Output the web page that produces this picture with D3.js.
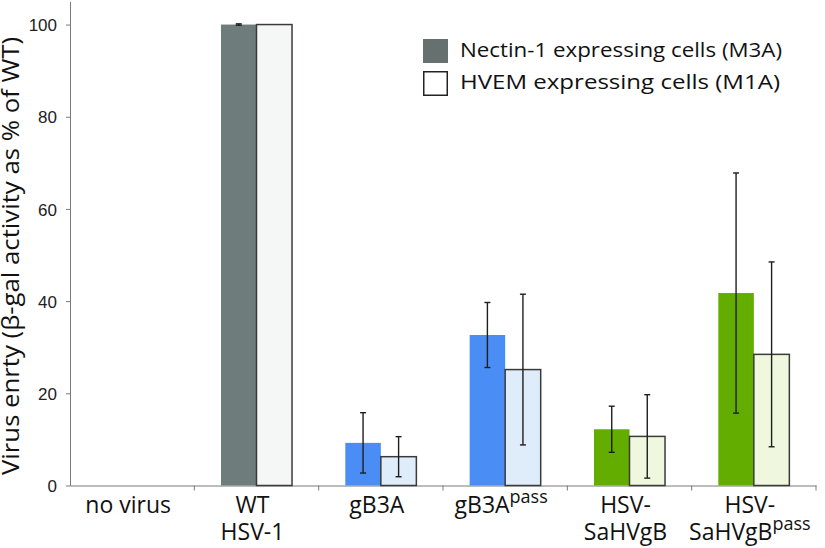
<!DOCTYPE html>
<html><head><meta charset="utf-8">
<script src="https://d3js.org/d3.v7.min.js"></script>
<style>
body{margin:0;background:#fff;}
svg{display:block;}
</style></head>
<body>
<svg id="chart" width="825" height="548"></svg>
<script>
// ---- data ----
const categories = ["no virus", "WT HSV-1", "gB3A", "gB3Apass", "HSV-SaHVgB", "HSV-SaHVgBpass"];
// label lines: [base text, superscript]
const labelLines = [
  [["no virus", ""]],
  [["WT", ""], ["HSV-1", ""]],
  [["gB3A", ""]],
  [["gB3A", "pass"]],
  [["HSV-", ""], ["SaHVgB", ""]],
  [["HSV-", ""], ["SaHVgB", "pass"]]
];
const families = ["none", "wt", "gb3a", "gb3a", "sahv", "sahv"];
const seriesNames = ["Nectin-1 expressing cells (M3A)", "HVEM expressing cells (M1A)"];
const nectinValues = [0, 100, 9.25, 32.65, 12.2, 41.75];
const nectinErrors = [0, 0.15, 6.55, 7.05, 5.0, 26.05];
const hvemValues   = [0, 100, 6.25, 25.15, 10.65, 28.45];
const hvemErrors   = [0, 0, 4.35, 16.35, 9.05, 20.05];
const yTicks = [0, 20, 40, 60, 80, 100];
const yTitle = "Virus enrty (\u03b2-gal activity as % of WT)";

// ---- styles ----
const fillDark  = {none: "#6e7d7c", wt: "#6e7d7c", gb3a: "#4a8df5", sahv: "#63ad00"};
const fillLight = {none: "#f5f6f6", wt: "#f5f6f6", gb3a: "#dfedfb", sahv: "#eff8de"};
const labelFont = "'Open Sans', 'Noto Sans', sans-serif";

const svg = d3.select("#chart");
const mLeft = 70, mRight = 816, mTop = 1.5, mBottom = 485.5;

const x = d3.scaleBand().domain(categories).range([mLeft, mRight]).padding(0);
const xInner = d3.scaleBand().domain([0, 1]).range([0, x.bandwidth()]).paddingInner(0).paddingOuter(0.75);
const y = d3.scaleLinear().domain([0, 105]).range([mBottom, mTop]);

// y axis
const yAxis = d3.axisLeft(y).tickValues(yTicks).tickSize(4).tickPadding(9).tickSizeOuter(0);
const gy = svg.append("g").attr("transform", `translate(${mLeft},0)`).call(yAxis);
gy.select(".domain").attr("stroke", "#7a7a7a");
gy.selectAll(".tick line").attr("stroke", "#7a7a7a");
gy.selectAll(".tick text").attr("font-family", "'Liberation Sans', Arial, sans-serif")
  .attr("font-size", 17).attr("fill", "#222").attr("dy", "0.36em");

// x axis
const xAxis = d3.axisBottom(x).tickValues([]).tickSizeOuter(0);
const gx = svg.append("g").attr("transform", `translate(0,${mBottom})`).call(xAxis);
gx.select(".domain").attr("stroke", "#7a7a7a");
const boundaries = categories.slice(1).map(c => x(c)).concat([x(categories[categories.length - 1]) + x.bandwidth()]);
gx.selectAll("line.bt").data(boundaries).enter().append("line")
  .attr("x1", d => d).attr("x2", d => d).attr("y1", 0).attr("y2", 5)
  .attr("stroke", "#7a7a7a");

// bars
const rows = [];
categories.forEach((c, i) => {
  rows.push({cat: c, s: 0, v: nectinValues[i], e: nectinErrors[i], fam: families[i]});
  rows.push({cat: c, s: 1, v: hvemValues[i], e: hvemErrors[i], fam: families[i]});
});
const barRows = rows.filter(d => d.v > 0);
svg.append("g").selectAll("rect").data(barRows).enter().append("rect")
  .attr("x", d => x(d.cat) + xInner(d.s))
  .attr("y", d => y(d.v))
  .attr("width", xInner.bandwidth())
  .attr("height", d => y(0) - y(d.v))
  .attr("fill", d => d.s === 0 ? fillDark[d.fam] : fillLight[d.fam])
  .attr("stroke", d => d.s === 0 ? "none" : "#3a3a3a")
  .attr("stroke-width", 1.5);

// error bars
const errRows = rows.filter(d => d.e > 0);
const eg = svg.append("g").attr("stroke", "#1e1e1e").attr("stroke-width", 1.4);
errRows.forEach(d => {
  const cx = x(d.cat) + xInner(d.s) + xInner.bandwidth() / 2;
  eg.append("line").attr("x1", cx).attr("x2", cx).attr("y1", y(d.v + d.e)).attr("y2", y(d.v - d.e));
  eg.append("line").attr("x1", cx - 3).attr("x2", cx + 3).attr("y1", y(d.v + d.e)).attr("y2", y(d.v + d.e));
  eg.append("line").attr("x1", cx - 3).attr("x2", cx + 3).attr("y1", y(d.v - d.e)).attr("y2", y(d.v - d.e));
});

// x labels (one text element per line)
categories.forEach((c, i) => {
  const cx = x(c) + x.bandwidth() / 2 - 4;
  labelLines[i].forEach((ln, j) => {
    const t = svg.append("text").attr("text-anchor", "middle")
      .attr("x", cx).attr("y", 513 + j * 27)
      .attr("font-family", labelFont).attr("font-size", 23).attr("fill", "#111");
    t.append("tspan").text(ln[0]);
    if (ln[1]) {
      t.append("tspan").attr("font-size", 18).attr("dy", -10).text(ln[1]);
    }
  });
});

// y title
svg.append("text")
  .attr("transform", `translate(19,256) rotate(-90)`)
  .attr("text-anchor", "middle")
  .attr("font-family", labelFont).attr("font-size", 23).attr("fill", "#111")
  .attr("textLength", 438).attr("lengthAdjust", "spacingAndGlyphs")
  .text(yTitle);

// legend
const legend = svg.append("g");
const legendLens = [322, 320];
seriesNames.forEach((s, i) => {
  const ly = 39 + i * 32;
  legend.append("rect").attr("x", i === 0 ? 423 : 423.75).attr("y", i === 0 ? ly : ly + 0.75)
    .attr("width", i === 0 ? 25 : 23.5).attr("height", i === 0 ? 24 : 23.5)
    .attr("fill", i === 0 ? "#66706f" : "#ffffff")
    .attr("stroke", i === 0 ? "none" : "#222").attr("stroke-width", 1.5);
  legend.append("text").attr("x", 460).attr("y", ly + 18)
    .attr("font-family", labelFont).attr("font-size", 20).attr("fill", "#111")
    .attr("textLength", legendLens[i]).attr("lengthAdjust", "spacingAndGlyphs")
    .text(s);
});
</script>
</body></html>
